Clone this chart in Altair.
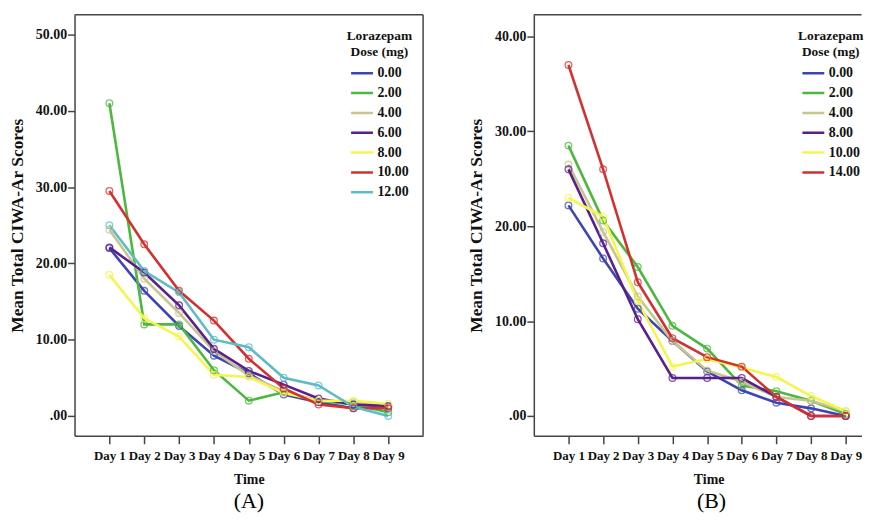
import json
import altair as alt
import pandas as pd

# ---------------- data ----------------
days = ["Day 1", "Day 2", "Day 3", "Day 4", "Day 5", "Day 6", "Day 7", "Day 8", "Day 9"]

# Panel A
doses_a = ["0.00", "2.00", "4.00", "6.00", "8.00", "10.00", "12.00"]
a_0 = [22.0, 16.4, 11.8, 7.9, 5.6, 2.8, 1.8, 1.0, 1.2]
a_2 = [41.0, 12.0, 12.0, 6.0, 2.0, 3.1, 2.0, 1.5, 0.5]
a_4 = [24.4, 18.0, 13.5, 8.5, 5.3, 3.2, 2.0, 1.8, 1.2]
a_6 = [22.1, 18.8, 14.5, 8.8, 5.9, 4.1, 2.3, 1.5, 1.3]
a_8 = [18.5, 12.8, 10.4, 5.4, 5.1, 3.0, 2.0, 2.0, 1.6]
a_10 = [29.5, 22.5, 16.4, 12.5, 7.5, 3.6, 1.5, 1.0, 1.0]
a_12 = [25.0, 19.0, 16.2, 10.0, 9.0, 5.0, 4.0, 1.2, 0.0]
series_a = [a_0, a_2, a_4, a_6, a_8, a_10, a_12]

# Panel B
doses_b = ["0.00", "2.00", "4.00", "8.00", "10.00", "14.00"]
b_0 = [22.2, 16.6, 11.3, 7.9, 4.7, 2.7, 1.4, 0.8, 0.0]
b_2 = [28.5, 20.6, 15.7, 9.5, 7.1, 3.2, 2.6, 1.6, 0.2]
b_4 = [26.5, 19.4, 12.6, 7.9, 4.8, 3.6, 2.0, 1.6, 0.5]
b_8 = [26.0, 18.2, 10.2, 4.0, 4.0, 4.0, 2.0, 0.0, 0.0]
b_10 = [23.0, 21.0, 12.1, 5.2, 6.0, 5.1, 4.1, 2.1, 0.5]
b_14 = [37.0, 26.0, 14.1, 8.2, 6.2, 5.2, 2.0, 0.0, 0.0]
series_b = [b_0, b_2, b_4, b_8, b_10, b_14]

y_ticks_a = [0, 10, 20, 30, 40, 50]
y_ticks_b = [0, 10, 20, 30, 40]

# ---------------- styling ----------------
BLUE, GREEN, TAN, PURPLE, YELLOW, RED, CYAN = (
    "#3d45b5", "#4cb83e", "#c8c690", "#5a1f8c", "#f5f550", "#d3302f", "#5cbdc6")
colors_a = [BLUE, GREEN, TAN, PURPLE, YELLOW, RED, CYAN]
colors_b = [BLUE, GREEN, TAN, PURPLE, YELLOW, RED]

FONT = "Liberation Serif"
AXIS_COLOR = "#444444"
H = 424


def make_df(doses, series):
    rows = []
    for k, (d, vals) in enumerate(zip(doses, series)):
        for i, v in enumerate(vals):
            rows.append({"day": i + 1, "dose": d, "score": v, "k": k})
    return pd.DataFrame(rows)


def panel(doses, series, colors, width, xmax, ydom, yticks, label, title_dx, time_x,
          right_border, legend_x):
    df = make_df(doses, series)
    x_label_expr = json.dumps(days) + "[datum.value - 1]"
    xs = alt.X("day:Q",
               scale=alt.Scale(domain=[0, xmax], nice=False, zero=False),
               axis=alt.Axis(values=list(range(1, len(days) + 1)), labelExpr=x_label_expr,
                             title="Time", titleX=time_x, grid=False, tickSize=8,
                             labelFontSize=13, titleFontSize=14,
                             labelPadding=6, titlePadding=10, labelOverlap=False,
                             labelFlush=False, labelBound=False))
    ys = alt.Y("score:Q",
               scale=alt.Scale(domain=ydom, nice=False, zero=False),
               axis=alt.Axis(values=yticks,
                             labelExpr="datum.value == 0 ? '.00' : format(datum.value, '.2f')",
                             title="Mean Total CIWA-Ar Scores", grid=False, tickSize=7,
                             labelFontSize=14, titleFontSize=17.5,
                             labelPadding=1, titlePadding=9, labelFlush=False))
    cscale = alt.Scale(domain=doses, range=colors)
    base = alt.Chart(df).encode(x=xs, y=ys)
    lines = base.mark_line(strokeWidth=2.6).encode(
        color=alt.Color("dose:N", scale=cscale, sort=doses,
                        legend=alt.Legend(title=["Lorazepam", "Dose (mg)"], orient="none",
                                          legendX=legend_x, legendY=14)),
        order="day:Q")
    points = base.mark_point(shape="circle", filled=False, size=45, strokeWidth=1.3,
                             opacity=0.75).encode(
        color=alt.Color("dose:N", scale=cscale, sort=doses, legend=None))
    frame_df = pd.DataFrame({"a": [0]})
    top = alt.Chart(frame_df).mark_rule(color=AXIS_COLOR, strokeWidth=1.5).encode(
        x=alt.value(0), x2=alt.value(width), y=alt.value(0))
    layers = [lines, points, top]
    if right_border:
        right = alt.Chart(frame_df).mark_rule(color=AXIS_COLOR, strokeWidth=1.5).encode(
            x=alt.value(width), y=alt.value(0), y2=alt.value(H))
        layers.append(right)
    return alt.layer(*layers).properties(
        width=width, height=H,
        title=alt.TitleParams(text=label, orient="bottom", fontSize=22, font=FONT,
                              fontWeight="normal", color="#000000", frame="group",
                              anchor="middle", dx=title_dx, offset=5))


chart_a = panel(doses_a, series_a, colors_a, 351, 351 / 35.1, [-2.6, 52.6], y_ticks_a,
                "(A)", 0, 175.5, True, 274)
chart_b = panel(doses_b, series_b, colors_b, 330, 330 / 34.9, [-2.09, 42.3], y_ticks_b,
                "(B)", 14, 176, False, 266)

chart = alt.hconcat(chart_a, chart_b, spacing=43.5).resolve_scale(color="independent").properties(
    padding={"left": 0, "top": 4, "right": 0, "bottom": 0}
).configure_view(stroke=None).configure_axis(
    labelFont=FONT, labelFontWeight="bold", labelColor="#111111",
    titleFont=FONT, titleFontWeight="bold", titleColor="#111111",
    domainColor=AXIS_COLOR, domainWidth=1.5, tickColor=AXIS_COLOR, tickWidth=1.5,
).configure_legend(
    titleFont=FONT, titleFontSize=13.5, titleFontWeight="bold", titleColor="#111111",
    titleAlign="center", titleAnchor="middle", titleLineHeight=16.5, titlePadding=6,
    labelFont=FONT, labelFontSize=14, labelFontWeight="bold", labelColor="#111111",
    symbolType="stroke", symbolSize=484, symbolStrokeWidth=2.5, labelOffset=3,
    clipHeight=17.7, rowPadding=2, padding=0, symbolOpacity=1,
)

chart.save("out.html", embed_options={"renderer": "svg", "actions": False})
